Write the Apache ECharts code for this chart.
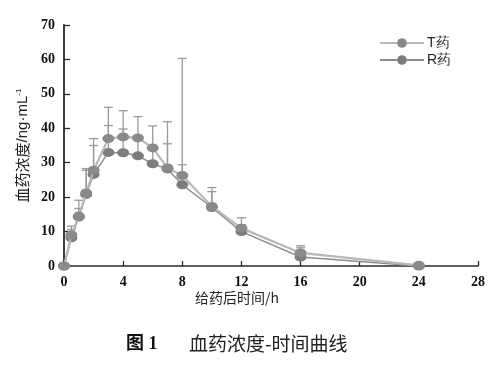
<!DOCTYPE html>
<html><head><meta charset="utf-8">
<script src="https://cdn.jsdelivr.net/npm/echarts@6/dist/echarts.min.js"></script>
<style>html,body{margin:0;padding:0;background:#fff}#c{width:489px;height:366px}</style>
</head><body><div id="c"></div>
<script>
var times = [0, 0.5, 1, 1.5, 2, 3, 4, 5, 6, 7, 8, 10, 12, 16, 24];
var tMean = [0, 9.0, 14.5, 21.2, 27.8, 37.0, 37.5, 37.2, 34.3, 28.5, 26.3, 17.3, 11.0, 3.8, 0.2];
var tSD   = [0, 2.6, 4.6, 7.1, 9.2, 9.1, 7.6, 6.2, 6.4, 13.4, 34.0, 5.5, 3.0, 2.1, 0.4];
var rMean = [0, 8.2, 14.2, 20.8, 26.6, 33.0, 32.9, 32.0, 29.7, 28.2, 23.6, 17.0, 10.0, 2.6, 0];
var rSD   = [0, 2.4, 2.5, 7.0, 8.4, 7.8, 6.9, 5.0, 4.5, 7.3, 5.8, 4.6, 2.0, 2.7, 0.3];
var xTicks = [0, 4, 8, 12, 16, 20, 24, 28];
var yTicks = [0, 10, 20, 30, 40, 50, 60, 70];
var seriesNames = ['T药', 'R药'];

function pts(m){ return times.map(function(t,i){ return [t, m[i]]; }); }
function errData(m, s){ return times.map(function(t,i){ return [t, m[i], m[i]+s[i]]; }); }
function errRender(params, api){
  var p0 = api.coord([api.value(0), api.value(1)]);
  var p1 = api.coord([api.value(0), api.value(2)]);
  var hw = 4.5;
  var st = {stroke:'#9a9a9a', lineWidth:1.3};
  return {type:'group', children:[
    {type:'line', shape:{x1:p0[0],y1:p0[1],x2:p1[0],y2:p1[1]}, style:st},
    {type:'line', shape:{x1:p1[0]-hw,y1:p1[1],x2:p1[0]+hw,y2:p1[1]}, style:st}
  ]};
}
var chart = echarts.init(document.getElementById('c'), null, {renderer:'canvas'});
var axisLabel = {fontFamily:'Liberation Serif', fontWeight:'bold', fontSize:14, color:'#111'};
chart.setOption({
  animation:false,
  backgroundColor:'#fff',
  grid:{left:64, top:25, right:11, bottom:100},
  legend:{
    orient:'vertical', left:374, top:31, itemWidth:44, itemHeight:12, itemGap:3,
    data:seriesNames,
    textStyle:{fontFamily:'Liberation Sans', fontSize:14, color:'#222', padding:[0,0,0,-2]}
  },
  xAxis:{
    type:'value', min:0, max:28, interval:4,
    axisLine:{lineStyle:{color:'#2a2a2a', width:1.6}},
    axisTick:{inside:true, length:5, lineStyle:{color:'#2a2a2a', width:1.3}},
    axisLabel:Object.assign({margin:9, formatter:function(v){return xTicks.indexOf(v)>=0? v : '';}}, axisLabel),
    splitLine:{show:false}
  },
  yAxis:{
    type:'value', min:0, max:70, interval:10,
    name:'{a|血药浓度}{b|/ng·mL}{s|-1}', nameLocation:'middle', nameGap:27, nameRotate:90,
    nameTextStyle:{rich:{
      a:{fontFamily:'Noto Sans CJK SC', fontSize:15, color:'#222'},
      b:{fontFamily:'Liberation Sans', fontSize:15, color:'#222'},
      s:{fontFamily:'Liberation Sans', fontSize:8, color:'#222', verticalAlign:'top', padding:[0,0,8,0]}
    }},
    axisLine:{show:true, lineStyle:{color:'#2a2a2a', width:1.8}},
    axisTick:{show:true, inside:true, length:6, lineStyle:{color:'#2a2a2a', width:1.3}},
    axisLabel:Object.assign({margin:9, formatter:function(v){return yTicks.indexOf(v)>=0? v : '';}}, axisLabel),
    splitLine:{show:false}
  },
  graphic:[
    {type:'text', left:195, top:291, style:{text:'给药后时间/h', font:'14px "Noto Sans CJK SC"', fill:'#222'}},
    {type:'text', left:126, top:335, style:{text:'图 1', font:'bold 18px "Liberation Serif", "Noto Sans CJK SC"', fill:'#111'}},
    {type:'text', left:189, top:334, style:{text:'血药浓度-时间曲线', font:'19px "Noto Sans CJK SC"', fill:'#222'}}
  ],
  series:[
    {type:'custom', name:'errT', renderItem:errRender, data:errData(tMean,tSD), z:1, silent:true, encode:{x:0,y:[1,2]}},
    {type:'custom', name:'errR', renderItem:errRender, data:errData(rMean,rSD), z:1, silent:true, encode:{x:0,y:[1,2]}},
    {type:'line', name:seriesNames[0], data:pts(tMean), z:3, symbol:'circle', symbolSize:[12,9], showSymbol:true,
      lineStyle:{color:'#b8b8b8', width:2.2}, itemStyle:{color:'#8a8a8a', borderWidth:0}},
    {type:'line', name:seriesNames[1], data:pts(rMean), z:2, symbol:'circle', symbolSize:[12,9], showSymbol:true,
      lineStyle:{color:'#8e8e8e', width:1.5}, itemStyle:{color:'#7d7d7d', borderWidth:0}}
  ]
});
</script></body></html>
